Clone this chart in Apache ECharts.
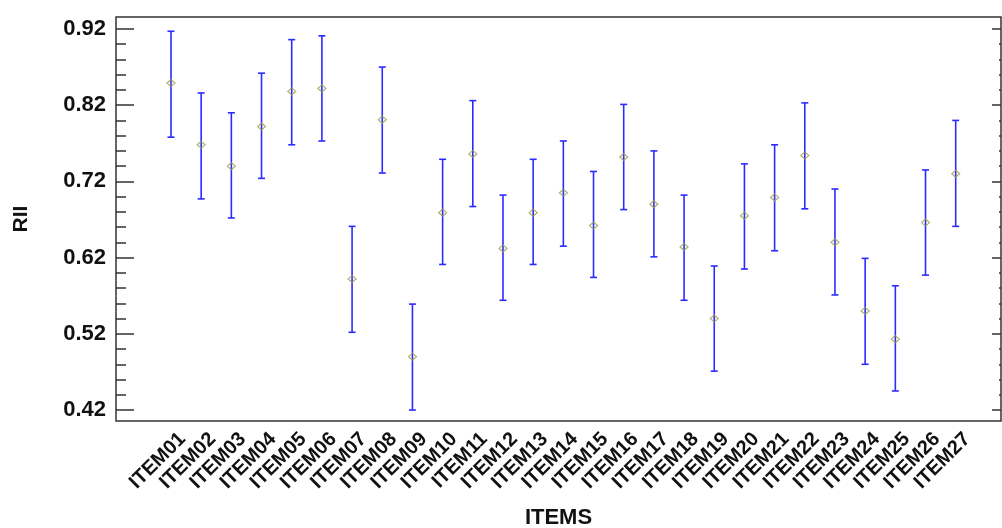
<!DOCTYPE html>
<html>
<head>
<meta charset="utf-8">
<script src="https://cdn.jsdelivr.net/npm/echarts@6/dist/echarts.min.js"></script>
<style>html,body{margin:0;padding:0;background:#fff;}#c{width:1002px;height:528px;}</style>
</head>
<body>
<div id="c"></div>
<script>
const categories = ['ITEM01','ITEM02','ITEM03','ITEM04','ITEM05','ITEM06','ITEM07','ITEM08','ITEM09','ITEM10','ITEM11','ITEM12','ITEM13','ITEM14','ITEM15','ITEM16','ITEM17','ITEM18','ITEM19','ITEM20','ITEM21','ITEM22','ITEM23','ITEM24','ITEM25','ITEM26','ITEM27'];
const rii   = [0.849,0.768,0.740,0.792,0.838,0.842,0.592,0.801,0.490,0.679,0.756,0.632,0.679,0.705,0.662,0.752,0.690,0.634,0.540,0.675,0.699,0.754,0.640,0.550,0.513,0.666,0.730];
const lower = [0.778,0.697,0.672,0.724,0.768,0.773,0.522,0.731,0.420,0.611,0.687,0.564,0.611,0.635,0.594,0.683,0.621,0.564,0.471,0.605,0.629,0.684,0.571,0.480,0.445,0.597,0.661];
const upper = [0.917,0.836,0.810,0.862,0.906,0.911,0.661,0.870,0.559,0.749,0.826,0.702,0.749,0.773,0.733,0.821,0.760,0.702,0.609,0.743,0.768,0.823,0.710,0.619,0.583,0.735,0.800];
const yTicks = [0.42,0.52,0.62,0.72,0.82,0.92];

const minorTicks = [];
for (let k = 0; k < yTicks.length - 1; k++) {
  for (let j = 1; j <= 4; j++) minorTicks.push(+(yTicks[k] + j * 0.02).toFixed(2));
}
const labelShift = 0.38;
const FONT = "'Liberation Sans', Arial, sans-serif";
const TICK = '#333';
const yMin = 0.4056, yMax = 0.9357;

function yAx(pos, ticks, len, labels) {
  return {
    type: 'value', position: pos, min: yMin, max: yMax,
    axisLine: {show: false, onZero: false},
    splitLine: {show: false},
    axisTick: {show: true, inside: true, length: len, customValues: ticks, lineStyle: {color: TICK, width: 1.5}},
    axisLabel: labels ? {show: true, customValues: yTicks, formatter: v => v.toFixed(2), margin: 10,
      fontFamily: FONT, fontWeight: 'bold', fontSize: 22, color: '#111'} : {show: false},
    name: labels ? 'RII' : '', nameLocation: 'middle', nameGap: 84,
    nameTextStyle: {fontFamily: FONT, fontWeight: 'bold', fontSize: 21, color: '#111'}
  };
}

const chart = echarts.init(document.getElementById('c'), null, {renderer: 'canvas'});
chart.setOption({
  animation: false,
  backgroundColor: '#fff',
  grid: {left: 116, right: 1, top: 17, bottom: 107, containLabel: false, outerBoundsMode: 'none',
    show: true, borderColor: '#333', borderWidth: 1.5, backgroundColor: 'transparent'},
  xAxis: {
    type: 'value', min: -1.822, max: 27.501,
    axisLine: {show: false, onZero: false}, axisTick: {show: false}, splitLine: {show: false},
    axisLabel: {
      customValues: categories.map((c, i) => i + labelShift),
      formatter: v => categories[Math.round(v - labelShift)] || '',
      rotate: 45, margin: 15, fontFamily: FONT, fontWeight: 'bold', fontSize: 20, color: '#111'
    },
    name: 'ITEMS', nameLocation: 'middle', nameGap: 86,
    nameTextStyle: {fontFamily: FONT, fontWeight: 'bold', fontSize: 22, color: '#111'}
  },
  yAxis: [
    yAx('left', yTicks, 18, true),
    yAx('left', minorTicks, 10, false),
    yAx('right', yTicks, 9, false),
    yAx('right', minorTicks, 2, false)
  ],
  series: [
    {
      type: 'custom',
      yAxisIndex: 0,
      data: categories.map((c, i) => [i, lower[i], upper[i]]),
      encode: {x: 0, y: [1, 2]},
      renderItem: function (params, api) {
        const x = api.value(0);
        const pTop = api.coord([x, api.value(2)]);
        const pBot = api.coord([x, api.value(1)]);
        const w = 3.5;
        const st = {stroke: '#2b2bff', lineWidth: 1.6};
        return {type: 'group', children: [
          {type: 'line', shape: {x1: pTop[0], y1: pTop[1], x2: pBot[0], y2: pBot[1]}, style: st},
          {type: 'line', shape: {x1: pTop[0] - w, y1: pTop[1], x2: pTop[0] + w, y2: pTop[1]}, style: st},
          {type: 'line', shape: {x1: pBot[0] - w, y1: pBot[1], x2: pBot[0] + w, y2: pBot[1]}, style: st}
        ]};
      },
      z: 2
    },
    {
      type: 'scatter',
      yAxisIndex: 0,
      data: categories.map((c, i) => [i, rii[i]]),
      symbol: 'diamond',
      symbolSize: [8, 7],
      itemStyle: {color: 'rgba(255,255,255,0)', borderColor: '#9c9c48', borderWidth: 1.2},
      z: 3
    }
  ]
});
</script>
</body>
</html>
